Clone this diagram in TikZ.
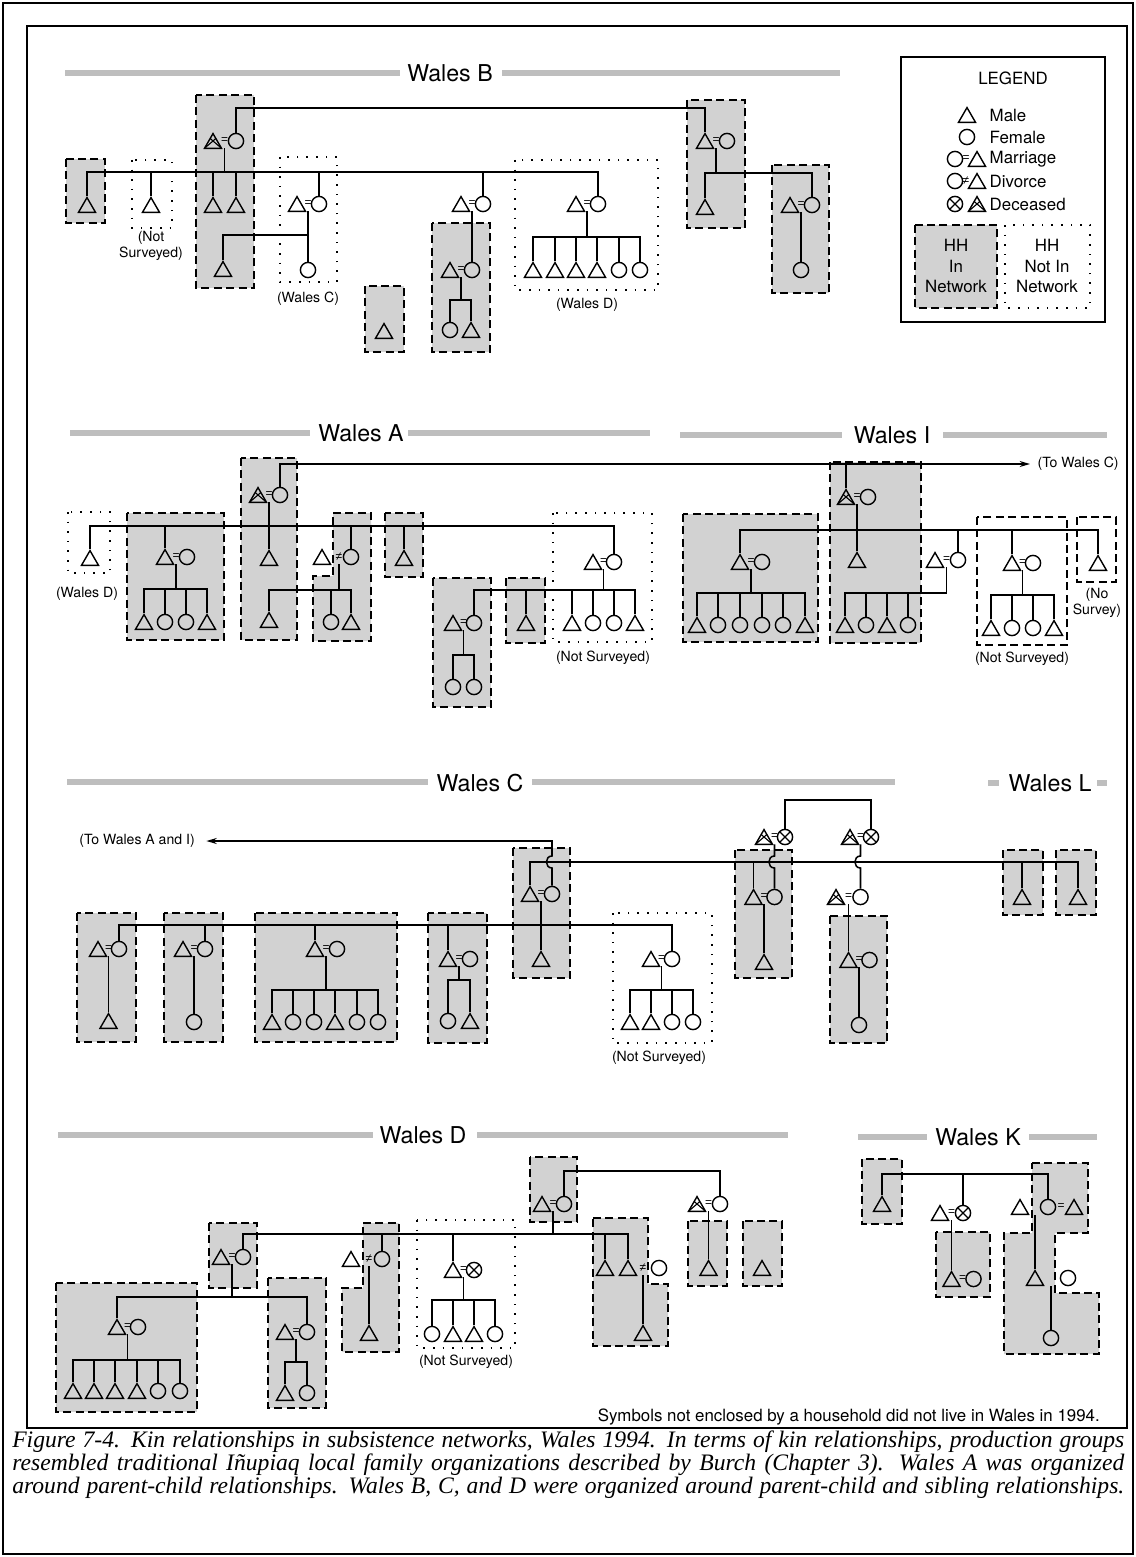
\documentclass[tikz,border=0pt]{standalone}
\usepackage{fontspec}
\setsansfont{TeX Gyre Heros}
\newfontfamily\capfont{Liberation Serif}
\newfontfamily\tiefont{Liberation Sans}
\usepackage{tikz}
\usetikzlibrary{shapes.geometric, arrows.meta}
\definecolor{HHGray}{RGB}{210,210,210}
\definecolor{BandGray}{RGB}{190,190,190}

\begin{document}
\begin{tikzpicture}[x=0.25mm, y=-0.25mm,
    kin/.style={line width=1.1pt},
    male/.style={regular polygon, regular polygon sides=3, draw, line width=1pt,
                 minimum size=4.9mm, inner sep=0pt, yshift=-0.6mm},
    female/.style={circle, draw, line width=1pt, minimum size=3.8mm, inner sep=0pt},
    dead/.style={path picture={\draw[line width=0.8pt]
        (path picture bounding box.south west) -- (path picture bounding box.north east)
        (path picture bounding box.north west) -- (path picture bounding box.south east);}},
    tie/.style={inner sep=0pt, minimum height=3.6mm, font=\tiefont\fontsize{8.5}{8.5}\selectfont},
    hhin/.style={draw, line width=1.2pt, dash pattern=on 2mm off 1.1mm, fill=HHGray},
    hhopen/.style={draw, line width=1.2pt, dash pattern=on 2mm off 1.1mm, fill=white},
    hhout/.style={draw, line width=1.3pt, dash pattern=on 0.4mm off 2mm, fill=white},
    band/.style={fill=BandGray},
    title/.style={font=\sffamily\fontsize{16.5}{16.5}\selectfont, inner sep=2pt},
    note/.style={font=\sffamily\fontsize{10}{11.5}\selectfont, align=center, inner sep=1pt},
    legtext/.style={font=\sffamily\fontsize{12}{14.5}\selectfont, inner sep=1pt},
    capline/.style={font=\capfont\itshape\fontsize{16.8}{17}\selectfont, anchor=base west, inner sep=0pt},
    arr/.style={kin, -{Stealth[length=2.6mm, width=1.5mm]}}
  ]
  \useasboundingbox (0,0) rectangle (1136,1557);

  % frames
  \draw[line width=0.7mm] (3,3) rectangle (1133,1554);
  \draw[line width=0.4mm] (27,26) rectangle (1127,1428);

  % ---------------- Wales B ----------------
  \fill[band] (65,70) rectangle (400,76);
  \fill[band] (502,70) rectangle (840,76);
  \node[title] (tB) at (450,73) {Wales B};

  \draw[hhin] (66,159) rectangle (105,223);
  \draw[hhout] (132,160) rectangle (172,228);
  \draw[hhin] (196,95) rectangle (254,288);
  \draw[hhout] (280,157) rectangle (337,282);
  \draw[hhin] (365,286) rectangle (404,352);
  \draw[hhin] (432,223) rectangle (490,352);
  \draw[hhout] (515,160) rectangle (658,290);
  \draw[hhin] (687,100) rectangle (745,228);
  \draw[hhin] (772,165) rectangle (829,293);

  \node[male] (bm1) at (87,205) {};
  \node[male] (bm2) at (151,205) {};
  \node[note] (bl1) at (151,246) {(Not\\Surveyed)};
  \node[male, dead] (bm3) at (213,141) {};
  \node[tie] (b3t) at (224.5,141) {=};
  \node[female] (bf3) at (236,141) {};
  \node[male] (bm4) at (213,205) {};
  \node[male] (bm5) at (236,205) {};
  \node[male] (bm6) at (223,269) {};
  \node[male] (bm7) at (297,204) {};
  \node[tie] (b7t) at (308,204) {=};
  \node[female] (bf7) at (319,204) {};
  \node[female] (bf8) at (308,270) {};
  \node[note] (bl2) at (308,299) {(Wales C)};
  \node[male] (bm9) at (384,331) {};
  \node[male] (bm10) at (461,204) {};
  \node[tie] (b10t) at (472,204) {=};
  \node[female] (bf10) at (483,204) {};
  \node[male] (bm11) at (450,270) {};
  \node[tie] (b11t) at (461,270) {=};
  \node[female] (bf11) at (472,270) {};
  \node[female] (bf12) at (450,330) {};
  \node[male] (bm12) at (471,330) {};
  \node[male] (bm13) at (576,204) {};
  \node[tie] (b13t) at (587,204) {=};
  \node[female] (bf13) at (598,204) {};
  \foreach \n/\x/\s in {1/533/male,2/555/male,3/576/male,4/597/male,5/619/female,6/640/female}
    \node[\s] (bk\n) at (\x,270) {};
  \node[note] (bl3) at (587,305) {(Wales D)};
  \node[male] (bm14) at (705,141) {};
  \node[tie] (b14t) at (716,141) {=};
  \node[female] (bf14) at (727,141) {};
  \node[male] (bm15) at (705,207) {};
  \node[male] (bm16) at (790,205) {};
  \node[tie] (b16t) at (801,205) {=};
  \node[female] (bf16) at (812,205) {};
  \node[female] (bf17) at (801,270) {};

  \coordinate (bsib) at (0,172);
  \coordinate (btop) at (0,108);
  \coordinate (bc) at (0,235);
  \coordinate (bd) at (0,237);
  \coordinate (bp) at (0,300);
  \coordinate (bq) at (0,173);

  \draw[kin] (bm1.north) -- (bm1.north |- bsib) -- (bf13.north |- bsib) -- (bf13.north);
  \foreach \n in {bm2,bm4,bm5,bf7,bf10}
    \draw[kin] (\n.north) -- (\n.north |- bsib);
  \draw[kin] (b3t.south) -- (b3t.south |- bsib);
  \draw[kin] (bf3.north) -- (bf3.north |- btop) -- (bm14.north |- btop) -- (bm14.north);
  \draw[kin] (b7t.south) -- (bf8.north);
  \draw[kin] (bm6.north) -- (bm6.north |- bc) -- (b7t.south |- bc);
  \draw[kin] (b10t.south) -- (bf11.north);
  \draw[kin] (b11t.south) -- (b11t.south |- bp);
  \draw[kin] (bf12.north) -- (bf12.north |- bp) -- (bm12.north |- bp) -- (bm12.north);
  \draw[kin] (b13t.south) -- (b13t.south |- bd);
  \draw[kin] (bk1.north) -- (bk1.north |- bd) -- (bk6.north |- bd) -- (bk6.north);
  \foreach \i in {2,...,5}
    \draw[kin] (bk\i.north) -- (bk\i.north |- bd);
  \draw[kin] (b14t.south) -- (b14t.south |- bq);
  \draw[kin] (bm15.north) -- (bm15.north |- bq) -- (bf16.north |- bq) -- (bf16.north);
  \draw[kin] (b16t.south) -- (bf17.north);

  % legend
  \draw[line width=1.6pt, fill=white] (901,57) rectangle (1105,322);
  \node[legtext] (lg) at (1013,78) {LEGEND};
  \node[male] (lg1) at (967,115) {};
  \node[legtext, anchor=west] (lg1t) at (988,115) {Male};
  \node[female] (lg2) at (967,137) {};
  \node[legtext, anchor=west] (lg2t) at (988,137) {Female};
  \node[female] (lg3f) at (955,159) {};
  \node[tie] (lg3e) at (966,159) {=};
  \node[male] (lg3m) at (977,159) {};
  \node[legtext, anchor=west] (lg3t) at (988,159) {Marriage};
  \node[female] (lg4f) at (955,181) {};
  \node[tie] (lg4e) at (966,181) {≠};
  \node[male] (lg4m) at (977,181) {};
  \node[legtext, anchor=west] (lg4t) at (988,181) {Divorce};
  \node[female, dead] (lg5f) at (955,204) {};
  \node[male, dead] (lg5m) at (977,204) {};
  \node[legtext, anchor=west] (lg5t) at (988,204) {Deceased};
  \draw[hhin] (915,225) rectangle (997,308);
  \node[legtext, align=center] (lg6) at (956,266) {HH\\In\\Network};
  \draw[hhout] (1005,225) rectangle (1090,308);
  \node[legtext, align=center] (lg7) at (1047,266) {HH\\Not In\\Network};

  % ---------------- Wales A ----------------
  \fill[band] (70,430) rectangle (310,436);
  \fill[band] (408,430) rectangle (650,436);
  \node[title] (tA) at (361,433) {Wales A};

  \draw[hhout] (68,512) rectangle (110,573);
  \draw[hhin] (127,513) rectangle (224,640);
  \draw[hhin] (241,458) rectangle (297,640);
  \draw[hhin] (333,513) -- (371,513) -- (371,641) -- (313,641) -- (313,576) -- (333,576) -- cycle;
  \draw[hhin] (385,513) rectangle (423,577);
  \draw[hhin] (506,578) rectangle (545,643);
  \draw[hhout] (553,513) rectangle (652,642);
  \draw[hhin] (433,578) rectangle (491,707);

  \node[male] (am1) at (90,558) {};
  \node[note] (al1) at (87,594) {(Wales D)};
  \node[male] (am2) at (165,557) {};
  \node[tie] (a2t) at (176,557) {=};
  \node[female] (af2) at (187,557) {};
  \foreach \n/\x/\s in {1/144/male,2/165/female,3/186/female,4/207/male}
    \node[\s] (ak\n) at (\x,622) {};
  \node[male, dead] (am3) at (258,495) {};
  \node[tie] (a3t) at (269,495) {=};
  \node[female] (af3) at (280,495) {};
  \node[male] (am4) at (269,558) {};
  \node[male] (am5) at (269,620) {};
  \node[male] (am6) at (322,557) {};
  \node[tie] (a6t) at (339,557) {≠};
  \node[female] (af6) at (351,557) {};
  \node[female] (af7) at (331,622) {};
  \node[male] (am7) at (351,622) {};
  \node[male] (am8) at (404,558) {};
  \node[male] (am9) at (593,562) {};
  \node[tie] (a9t) at (603.5,562) {=};
  \node[female] (af9) at (614,562) {};
  \foreach \n/\x/\s in {1/572/male,2/593/female,3/614/female,4/635/male}
    \node[\s] (aj\n) at (\x,623) {};
  \node[note] (al2) at (603,658) {(Not Surveyed)};
  \node[male] (am10) at (526,623) {};
  \node[male] (am11) at (453,623) {};
  \node[tie] (a11t) at (463.5,623) {=};
  \node[female] (af11) at (474,623) {};
  \node[female] (af12) at (453,687) {};
  \node[female] (af13) at (474,687) {};

  \coordinate (asib) at (0,526);
  \coordinate (atop) at (0,464);
  \coordinate (a2c) at (0,589);
  \coordinate (a6c) at (0,590);
  \coordinate (a11c) at (0,655);

  \draw[kin] (am1.north) -- (am1.north |- asib) -- (af9.north |- asib) -- (af9.north);
  \foreach \n in {am2,af6,am8}
    \draw[kin] (\n.north) -- (\n.north |- asib);
  \draw[kin] (a3t.south) -- (am4.north);
  \draw[kin] (a2t.south) -- (a2t.south |- a2c);
  \draw[kin] (ak1.north) -- (ak1.north |- a2c) -- (ak4.north |- a2c) -- (ak4.north);
  \foreach \i in {2,3}
    \draw[kin] (ak\i.north) -- (ak\i.north |- a2c);
  \draw[kin] (a6t.south) -- (a6t.south |- a6c);
  \draw[kin] (am5.north) -- (am5.north |- a6c) -- (am7.north |- a6c) -- (am7.north);
  \draw[kin] (af7.north) -- (af7.north |- a6c);
  \draw[kin] (a9t.south) -- (a9t.south |- a6c);
  \draw[kin] (af11.north) -- (af11.north |- a6c) -- (aj4.north |- a6c) -- (aj4.north);
  \foreach \n in {am10,aj1,aj2,aj3}
    \draw[kin] (\n.north) -- (\n.north |- a6c);
  \draw[kin] (a11t.south) -- (a11t.south |- a11c);
  \draw[kin] (af12.north) -- (af12.north |- a11c) -- (af13.north |- a11c) -- (af13.north);

  % ---------------- Wales I ----------------
  \fill[band] (680,432) rectangle (842,438);
  \fill[band] (943,432) rectangle (1107,438);
  \node[title] (tI) at (892,435) {Wales I};

  \draw[hhin] (683,514) rectangle (818,642);
  \draw[hhin] (830,462) rectangle (921,643);
  \draw[hhopen] (977,517) rectangle (1067,645);
  \draw[hhopen] (1077,517) rectangle (1116,582);

  \node[male] (im1) at (740,562) {};
  \node[tie] (i1t) at (751,562) {=};
  \node[female] (if1) at (762,562) {};
  \foreach \n/\x/\s in {1/697/male,2/718/female,3/740/female,4/762/female,5/783/female,6/805/male}
    \node[\s] (ik\n) at (\x,625) {};
  \node[male, dead] (im2) at (846,497) {};
  \node[tie] (i2t) at (857,497) {=};
  \node[female] (if2) at (868,497) {};
  \node[male] (im3) at (857,560) {};
  \node[male] (im4) at (935,560) {};
  \node[tie] (i4t) at (946.5,560) {=};
  \node[female] (if4) at (958,560) {};
  \foreach \n/\x/\s in {1/845/male,2/866/female,3/887/male,4/908/female}
    \node[\s] (il\n) at (\x,625) {};
  \node[male] (im5) at (1012,563) {};
  \node[tie] (i5t) at (1022.5,563) {=};
  \node[female] (if5) at (1033,563) {};
  \foreach \n/\x/\s in {1/991/male,2/1012/female,3/1033/female,4/1054/male}
    \node[\s] (in\n) at (\x,628) {};
  \node[note] (il5) at (1022,659) {(Not Surveyed)};
  \node[male] (im6) at (1098,563) {};
  \node[note] (il6) at (1097,603) {(No\\Survey)};
  \node[note, anchor=west] (toC) at (1036,464) {(To Wales C)};

  \coordinate (isib) at (0,530);
  \coordinate (i1c) at (0,593);
  \coordinate (i5c) at (0,595);

  \draw[arr, shorten >=1.5mm] (af3.north) -- (af3.north |- atop) -- (toC.west);
  \draw[kin] (im2.north) -- (im2.north |- atop);
  \draw[kin] (im1.north) -- (im1.north |- isib) -- (im6.north |- isib) -- (im6.north);
  \foreach \n in {if4,im5}
    \draw[kin] (\n.north) -- (\n.north |- isib);
  \draw[kin] (i2t.south) -- (im3.north);
  \draw[kin] (i1t.south) -- (i1t.south |- i1c);
  \draw[kin] (ik1.north) -- (ik1.north |- i1c) -- (ik6.north |- i1c) -- (ik6.north);
  \foreach \i in {2,...,5}
    \draw[kin] (ik\i.north) -- (ik\i.north |- i1c);
  \draw[kin] (i4t.south) -- (i4t.south |- i1c) -- (il1.north |- i1c) -- (il1.north);
  \foreach \i in {2,3,4}
    \draw[kin] (il\i.north) -- (il\i.north |- i1c);
  \draw[kin] (i5t.south) -- (i5t.south |- i5c);
  \draw[kin] (in1.north) -- (in1.north |- i5c) -- (in4.north |- i5c) -- (in4.north);
  \foreach \i in {2,3}
    \draw[kin] (in\i.north) -- (in\i.north |- i5c);

  % ---------------- Wales C ----------------
  \fill[band] (67,779) rectangle (428,785);
  \fill[band] (532,779) rectangle (895,785);
  \node[title] (tC) at (480,783) {Wales C};
  \fill[band] (988,780) rectangle (999,786);
  \fill[band] (1097,780) rectangle (1107,786);
  \node[title] (tL) at (1050,783) {Wales L};

  \draw[hhin] (77,913) rectangle (136,1042);
  \draw[hhin] (164,913) rectangle (223,1042);
  \draw[hhin] (255,913) rectangle (397,1042);
  \draw[hhin] (428,913) rectangle (487,1043);
  \draw[hhin] (513,848) rectangle (570,978);
  \draw[hhout] (613,913) rectangle (712,1043);
  \draw[hhin] (735,850) rectangle (792,978);
  \draw[hhin] (830,916) rectangle (887,1043);
  \draw[hhin] (1003,850) rectangle (1043,915);
  \draw[hhin] (1056,850) rectangle (1096,915);

  \node[male] (cm1) at (98,949) {};
  \node[tie] (c1t) at (108.5,949) {=};
  \node[female] (cf1) at (119,949) {};
  \node[male] (cm2) at (108.5,1021) {};
  \node[male] (cm3) at (183,949) {};
  \node[tie] (c3t) at (194,949) {=};
  \node[female] (cf3) at (205,949) {};
  \node[female] (cf4) at (194,1022) {};
  \node[male] (cm5) at (315,949) {};
  \node[tie] (c5t) at (326,949) {=};
  \node[female] (cf5) at (337,949) {};
  \foreach \n/\x/\s in {1/272/male,2/293/female,3/314/female,4/335/male,5/357/female,6/378/female}
    \node[\s] (ck\n) at (\x,1022) {};
  \node[male] (cm6) at (448,959) {};
  \node[tie] (c6t) at (459,959) {=};
  \node[female] (cf6) at (470,959) {};
  \node[female] (cf7) at (448,1021) {};
  \node[male] (cm7) at (470,1021) {};
  \node[male] (cm8) at (530,894) {};
  \node[tie] (c8t) at (541,894) {=};
  \node[female] (cf8) at (552,894) {};
  \node[male] (cm9) at (541,959) {};
  \node[male] (cm10) at (651,959) {};
  \node[tie] (c10t) at (661.5,959) {=};
  \node[female] (cf10) at (672,959) {};
  \foreach \n/\x/\s in {1/630/male,2/651/male,3/672/female,4/693/female}
    \node[\s] (cj\n) at (\x,1022) {};
  \node[note] (cl1) at (659,1058) {(Not Surveyed)};
  \node[male, dead] (cm11) at (764,837) {};
  \node[tie] (c11t) at (774.5,837) {=};
  \node[female, dead] (cf11) at (785,837) {};
  \node[male, dead] (cm12) at (850,837) {};
  \node[tie] (c12t) at (860.5,837) {=};
  \node[female, dead] (cf12) at (871,837) {};
  \node[male] (cm13) at (753.5,897) {};
  \node[tie] (c13t) at (764,897) {=};
  \node[female] (cf13) at (774.5,897) {};
  \node[male] (cm14) at (764,962) {};
  \node[male, dead] (cm15) at (836,897) {};
  \node[tie] (c15t) at (848.5,897) {=};
  \node[female] (cf15) at (860.5,897) {};
  \node[male] (cm16) at (848.5,960) {};
  \node[tie] (c16t) at (859,960) {=};
  \node[female] (cf16) at (869.5,960) {};
  \node[female] (cf17) at (859,1025) {};
  \node[male] (cm18) at (1022,897) {};
  \node[male] (cm19) at (1078,897) {};
  \node[note] (toAI) at (137,841) {(To Wales A and I)};

  \coordinate (csib) at (0,925);
  \coordinate (clsib) at (0,862);
  \coordinate (ctop) at (0,800);
  \coordinate (hopA) at (0,856);
  \coordinate (hopB) at (0,868);
  \coordinate (c3c) at (0,990);
  \coordinate (c4c) at (0,980);

  \draw[kin] (cf1.north) -- (cf1.north |- csib) -- (cf10.north |- csib) -- (cf10.north);
  \foreach \n in {cf3,cm5,cm6}
    \draw[kin] (\n.north) -- (\n.north |- csib);
  \draw[kin] (c1t.south) -- (cm2.north);
  \draw[kin] (c3t.south) -- (cf4.north);
  \draw[kin] (c5t.south) -- (c5t.south |- c3c);
  \draw[kin] (ck1.north) -- (ck1.north |- c3c) -- (ck6.north |- c3c) -- (ck6.north);
  \foreach \i in {2,...,5}
    \draw[kin] (ck\i.north) -- (ck\i.north |- c3c);
  \draw[kin] (c6t.south) -- (c6t.south |- c4c);
  \draw[kin] (cf7.north) -- (cf7.north |- c4c) -- (cm7.north |- c4c) -- (cm7.north);
  \draw[kin] (c8t.south) -- (cm9.north);
  \draw[kin] (c10t.south) -- (c10t.south |- c3c);
  \draw[kin] (cj1.north) -- (cj1.north |- c3c) -- (cj4.north |- c3c) -- (cj4.north);
  \foreach \i in {2,3}
    \draw[kin] (cj\i.north) -- (cj\i.north |- c3c);
  \draw[kin] (cm8.north) -- (cm8.north |- clsib) -- (cm19.north |- clsib) -- (cm19.north);
  \foreach \n in {cm13,cm18}
    \draw[kin] (\n.north) -- (\n.north |- clsib);
  \draw[arr, shorten >=2.5mm] (cf8.north) -- (cf8.north |- hopB)
    to[out=180, in=180, looseness=1.6] (cf8.north |- hopA)
    -- (cf8.north |- toAI) -- (toAI.east);
  \draw[kin] (cf11.north) -- (cf11.north |- ctop) -- (cf12.north |- ctop) -- (cf12.north);
  \draw[kin] (c11t.south) -- (c11t.south |- hopA)
    to[out=180, in=180, looseness=1.6] (c11t.south |- hopB) -- (cf13.north);
  \draw[kin] (c12t.south) -- (c12t.south |- hopA)
    to[out=180, in=180, looseness=1.6] (c12t.south |- hopB) -- (cf15.north);
  \draw[kin] (c13t.south) -- (cm14.north);
  \draw[kin] (c15t.south) -- (cm16.north);
  \draw[kin] (c16t.south) -- (cf17.north);

  % ---------------- Wales D ----------------
  \fill[band] (58,1132) rectangle (373,1138);
  \fill[band] (477,1132) rectangle (788,1138);
  \node[title] (tD) at (423,1135) {Wales D};

  \draw[hhin] (56,1283) rectangle (197,1412);
  \draw[hhin] (209,1223) rectangle (257,1288);
  \draw[hhin] (268,1278) rectangle (326,1408);
  \draw[hhin] (363,1223) -- (399,1223) -- (399,1352) -- (342,1352) -- (342,1288) -- (363,1288) -- cycle;
  \draw[hhout] (417,1220) rectangle (515,1348);
  \draw[hhin] (530,1157) rectangle (577,1222);
  \draw[hhin] (593,1218) -- (648,1218) -- (648,1284) -- (668,1284) -- (668,1346) -- (593,1346) -- cycle;
  \draw[hhin] (688,1221) rectangle (727,1286);
  \draw[hhin] (743,1221) rectangle (782,1286);

  \node[male] (dm1) at (117,1327) {};
  \node[tie] (d1t) at (127.5,1327) {=};
  \node[female] (df1) at (138,1327) {};
  \foreach \n/\x/\s in {1/73/male,2/94/male,3/115/male,4/137/male,5/158/female,6/180/female}
    \node[\s] (dk\n) at (\x,1391) {};
  \node[male] (dm2) at (221,1257) {};
  \node[tie] (d2t) at (232,1257) {=};
  \node[female] (df2) at (243,1257) {};
  \node[male] (dm3) at (285,1332) {};
  \node[tie] (d3t) at (296,1332) {=};
  \node[female] (df3) at (307,1332) {};
  \node[male] (dm4) at (285,1393) {};
  \node[female] (df4) at (307,1393) {};
  \node[male] (dm5) at (351,1259) {};
  \node[tie] (d5t) at (369,1259) {≠};
  \node[female] (df5) at (382,1259) {};
  \node[male] (dm6) at (369,1333) {};
  \node[male] (dm7) at (453,1270) {};
  \node[tie] (d7t) at (463.5,1270) {=};
  \node[female, dead] (df7) at (474,1270) {};
  \foreach \n/\x/\s in {1/432/female,2/453/male,3/474/male,4/495/female}
    \node[\s] (dl\n) at (\x,1334) {};
  \node[note] (dl5) at (466,1362) {(Not Surveyed)};
  \node[male] (dm8) at (542,1204) {};
  \node[tie] (d8t) at (553,1204) {=};
  \node[female] (df8) at (564,1204) {};
  \node[male] (dm9) at (605,1268) {};
  \node[male] (dm10) at (628,1268) {};
  \node[tie] (d10t) at (643,1268) {≠};
  \node[female] (df10) at (659,1268) {};
  \node[male] (dm11) at (643,1333) {};
  \node[male, dead] (dm12) at (697,1204) {};
  \node[tie] (d12t) at (708.5,1204) {=};
  \node[female] (df12) at (720,1204) {};
  \node[male] (dm13) at (708.5,1268) {};
  \node[male] (dm14) at (762,1268) {};

  \coordinate (dtop) at (0,1171);
  \coordinate (dsib) at (0,1234);
  \coordinate (d2c) at (0,1297);
  \coordinate (d1c) at (0,1360);
  \coordinate (d3c) at (0,1362);
  \coordinate (d7c) at (0,1300);

  \draw[kin] (df8.north) -- (df8.north |- dtop) -- (df12.north |- dtop) -- (df12.north);
  \draw[kin] (d8t.south) -- (d8t.south |- dsib);
  \draw[kin] (df2.north) -- (df2.north |- dsib) -- (dm10.north |- dsib) -- (dm10.north);
  \foreach \n in {df5,dm7,dm9}
    \draw[kin] (\n.north) -- (\n.north |- dsib);
  \draw[kin] (d2t.south) -- (d2t.south |- d2c);
  \draw[kin] (dm1.north) -- (dm1.north |- d2c) -- (df3.north |- d2c) -- (df3.north);
  \draw[kin] (d1t.south) -- (d1t.south |- d1c);
  \draw[kin] (dk1.north) -- (dk1.north |- d1c) -- (dk6.north |- d1c) -- (dk6.north);
  \foreach \i in {2,...,5}
    \draw[kin] (dk\i.north) -- (dk\i.north |- d1c);
  \draw[kin] (d3t.south) -- (d3t.south |- d3c);
  \draw[kin] (dm4.north) -- (dm4.north |- d3c) -- (df4.north |- d3c) -- (df4.north);
  \draw[kin] (d5t.south) -- (dm6.north);
  \draw[kin] (d7t.south) -- (d7t.south |- d7c);
  \draw[kin] (dl1.north) -- (dl1.north |- d7c) -- (dl4.north |- d7c) -- (dl4.north);
  \foreach \i in {2,3}
    \draw[kin] (dl\i.north) -- (dl\i.north |- d7c);
  \draw[kin] (d10t.south) -- (dm11.north);
  \draw[kin] (d12t.south) -- (dm13.north);

  % ---------------- Wales K ----------------
  \fill[band] (858,1134) rectangle (927,1140);
  \fill[band] (1029,1134) rectangle (1097,1140);
  \node[title] (tK) at (978,1137) {Wales K};

  \draw[hhin] (862,1159) rectangle (902,1224);
  \draw[hhin] (936,1232) rectangle (990,1297);
  \draw[hhin] (1032,1163) -- (1088,1163) -- (1088,1233) -- (1055,1233) -- (1055,1293)
    -- (1099,1293) -- (1099,1354) -- (1004,1354) -- (1004,1233) -- (1032,1233) -- cycle;

  \node[male] (km1) at (882,1204) {};
  \node[male] (km2) at (940,1213) {};
  \node[tie] (k2t) at (951.5,1213) {=};
  \node[female, dead] (kf2) at (963,1213) {};
  \node[male] (km3) at (951.5,1279) {};
  \node[tie] (k3t) at (962.5,1279) {=};
  \node[female] (kf3) at (973.5,1279) {};
  \node[male] (km4) at (1020,1207) {};
  \node[female] (kf4) at (1048,1207) {};
  \node[tie] (k4t) at (1061,1207) {=};
  \node[male] (km5) at (1074,1207) {};
  \node[male] (km6) at (1035,1278) {};
  \node[female] (kf6) at (1068,1278) {};
  \node[female] (kf7) at (1051,1338) {};

  \coordinate (ksib) at (0,1174);
  \draw[kin] (km1.north) -- (km1.north |- ksib) -- (kf4.north |- ksib) -- (kf4.north);
  \draw[kin] (kf2.north) -- (kf2.north |- ksib);
  \draw[kin] (k2t.south) -- (km3.north);
  \draw[kin] (km6.north) -- (km6.north |- kf4.south);
  \draw[kin] (kf7.north) -- (kf7.north |- kf6.south);

  % footnote and caption
  \node[font=\sffamily\fontsize{12}{13}\selectfont, anchor=base east, inner sep=0pt] (fn)
    at (1100,1421) {Symbols not enclosed by a household did not live in Wales in 1994.};
  \node[capline] (cap1) at (12,1447)
    {\makebox[278mm][s]{Figure 7-4. Kin relationships in subsistence networks, Wales 1994. In terms of kin relationships, production groups}};
  \node[capline] (cap2) at (12,1470)
    {\makebox[278mm][s]{resembled traditional Iñupiaq local family organizations described by Burch (Chapter 3). Wales A was organized}};
  \node[capline] (cap3) at (12,1493)
    {\makebox[278mm][s]{around parent-child relationships. Wales B, C, and D were organized around parent-child and sibling relationships.}};
\end{tikzpicture}
\end{document}
